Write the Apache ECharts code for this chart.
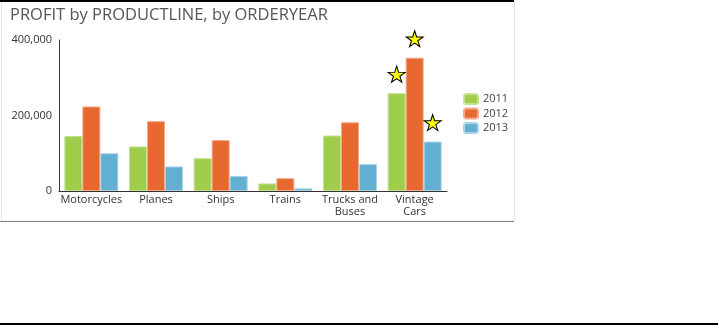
<!DOCTYPE html>
<html>
<head>
<meta charset="utf-8">
<script src="https://cdn.jsdelivr.net/npm/echarts@6/dist/echarts.min.js"></script>
<style>
html,body{margin:0;padding:0;background:#fff;}
#chart{width:719px;height:330px;}
</style>
</head>
<body>
<div id="chart"></div>
<script>
const categories = ['Motorcycles', 'Planes', 'Ships', 'Trains', 'Trucks and Buses', 'Vintage Cars'];
const years = ['2011', '2012', '2013'];
const profit2011 = [145700, 118000, 87000, 20000, 147000, 259000];
const profit2012 = [224000, 185000, 135000, 34000, 182000, 353000];
const profit2013 = [100000, 65000, 40000, 7000, 71000, 131000];
const yTicks = [0, 200000, 400000];
const colors = ['#9fcd4b', '#e8692f', '#62afd2'];
const borders = ['#c4e394', '#f3a98a', '#a9d4e8'];

const seriesValues = [profit2011, profit2012, profit2013];
const font = '"Open Sans", sans-serif';
const starPath = 'path://M50,0 L61,35 L98,35 L68,57 L79,91 L50,70 L21,91 L32,57 L2,35 L39,35 Z';

const chart = echarts.init(document.getElementById('chart'), null, {renderer: 'canvas'});
chart.setOption({
  animation: false,
  textStyle: {fontFamily: font},
  title: {
    text: 'PROFIT by PRODUCTLINE, by ORDERYEAR',
    left: 5, top: 2,
    textStyle: {fontFamily: font, fontSize: 16.5, fontWeight: 'normal', color: '#555'}
  },
  legend: {
    orient: 'vertical',
    left: 458, top: 87,
    itemWidth: 14, itemHeight: 10, itemGap: 0.5,
    icon: 'roundRect',
    textStyle: {fontFamily: font, fontSize: 11, lineHeight: 14, color: '#444'},
    data: years
  },
  grid: {left: 59, right: 272, top: 40, bottom: 139, containLabel: false},
  xAxis: {
    type: 'category',
    data: categories,
    axisLine: {lineStyle: {color: '#333', width: 1}},
    axisTick: {show: false},
    axisLabel: {
      color: '#333', fontSize: 11, margin: 3, lineHeight: 12, interval: 0,
      formatter: v => v.replace('Trucks and Buses', 'Trucks and\nBuses').replace('Vintage Cars', 'Vintage\nCars')
    }
  },
  yAxis: {
    type: 'value', min: yTicks[0], max: yTicks[yTicks.length - 1], interval: 200000,
    axisLine: {show: true, lineStyle: {color: '#333', width: 1}},
    axisTick: {show: false},
    splitLine: {show: false},
    axisLabel: {color: '#333', fontSize: 11, margin: 7, formatter: v => v.toLocaleString('en-US')}
  },
  series: years.map((y, i) => ({
    name: y,
    type: 'bar',
    data: seriesValues[i],
    barGap: '0%',
    barCategoryGap: '16.5%',
    itemStyle: {color: colors[i], borderColor: borders[i], borderWidth: 1},
    markPoint: {
      symbol: starPath,
      symbolSize: [17, 16],
      symbolOffset: [0, -19],
      itemStyle: {color: '#ffff00', borderColor: '#000', borderWidth: 1},
      label: {show: false},
      data: [{type: 'max'}]
    }
  })),
  graphic: [
    {type: 'rect', shape: {x: 1.5, y: 0.5, width: 513, height: 220.5}, style: {fill: 'none', stroke: '#e6e6e6', lineWidth: 1}, silent: true},
    {type: 'line', shape: {x1: 0, y1: 1, x2: 514, y2: 1}, style: {stroke: '#000', lineWidth: 2}, silent: true},
    {type: 'line', shape: {x1: 0, y1: 221.5, x2: 514, y2: 221.5}, style: {stroke: '#888', lineWidth: 1}, silent: true},
    {type: 'line', shape: {x1: 0, y1: 324, x2: 718, y2: 324}, style: {stroke: '#000', lineWidth: 2}, silent: true}
  ]
});
</script>
</body>
</html>
